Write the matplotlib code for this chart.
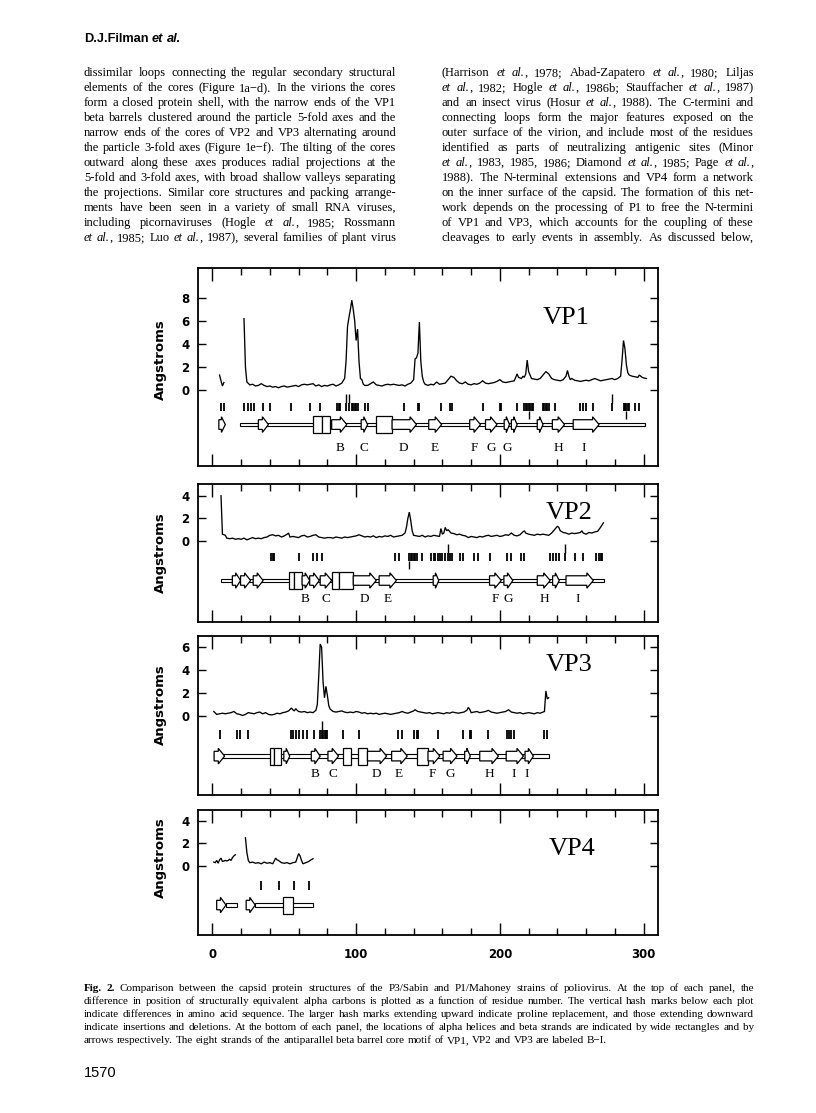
import numpy as np
import matplotlib
matplotlib.use('Agg')
import matplotlib.pyplot as plt
from matplotlib.patches import Polygon, Rectangle

# ------------------------------------------------------------------ data
# difference in C-alpha position (residue, Angstroms), one list per chain segment
VP1_SEGMENTS = [
    [(5, 1.3), (6, 0.8), (7, 0.35), (8, 0.65)],
    [(22, 6.2), (23, 2.0), (24, 0.7), (26, 0.45), (28, 0.5), (30, 0.35), (32, 0.4), (34, 0.55),
     (36, 0.4), (38, 0.3), (40, 0.35), (42, 0.25), (44, 0.3), (46, 0.2), (48, 0.3), (50, 0.35),
     (52, 0.25), (54, 0.3), (56, 0.35), (58, 0.4), (60, 0.3), (62, 0.45), (64, 0.5), (66, 0.45),
     (68, 0.5), (70, 0.55), (72, 0.35), (74, 0.45), (76, 0.3), (78, 0.4), (80, 0.35), (82, 0.45),
     (84, 0.5), (86, 0.35), (88, 0.45), (90, 0.6), (92, 1.0), (93, 2.5), (94, 5.5), (95, 6.3),
     (96, 7.0), (97, 7.8), (98, 7.0), (99, 6.0), (100, 4.3), (101, 5.3), (102, 2.5), (103, 1.0),
     (104, 0.9), (105, 0.5), (106, 0.4), (108, 0.4), (110, 0.55), (112, 0.7), (114, 0.45),
     (116, 0.4), (118, 0.35), (120, 0.45), (122, 0.5), (124, 0.45), (126, 0.5), (128, 0.45),
     (130, 0.4), (132, 0.45), (134, 0.35), (136, 0.5), (138, 0.6), (140, 0.9), (141, 2.7),
     (142, 2.8), (143, 3.2), (144, 5.9), (145, 2.5), (146, 1.2), (147, 0.7), (148, 0.5),
     (150, 0.4), (152, 0.5), (154, 0.45), (156, 0.7), (158, 0.5), (160, 0.55), (162, 0.6),
     (164, 0.9), (166, 1.2), (168, 1.1), (170, 0.8), (172, 0.6), (174, 0.55), (176, 0.7),
     (178, 0.5), (180, 0.45), (182, 0.55), (184, 0.5), (186, 0.6), (188, 0.8), (190, 0.6),
     (192, 0.55), (194, 0.6), (196, 0.65), (198, 0.75), (200, 0.9), (202, 0.7), (204, 0.65),
     (206, 0.7), (208, 0.75), (210, 0.8), (212, 1.4), (213, 1.1), (215, 1.0), (216, 1.2),
     (217, 1.1), (218, 1.4), (219, 2.6), (220, 1.6), (221, 1.3), (222, 1.0), (224, 0.95),
     (226, 0.9), (228, 1.0), (230, 1.3), (232, 1.6), (234, 1.4), (236, 1.0), (238, 0.9),
     (240, 0.85), (242, 0.8), (244, 0.9), (246, 1.2), (247, 1.7), (248, 1.2), (249, 0.9),
     (250, 1.0), (252, 0.85), (254, 0.8), (256, 0.75), (258, 0.8), (260, 0.85), (262, 0.8),
     (264, 0.9), (266, 1.0), (268, 0.9), (270, 0.8), (272, 0.85), (274, 0.9), (276, 0.95),
     (278, 1.0), (280, 0.9), (282, 1.0), (284, 1.2), (285, 2.6), (286, 4.3), (287, 3.6),
     (288, 2.2), (289, 1.5), (290, 1.3), (292, 1.2), (294, 1.15), (296, 1.1), (297, 1.3),
     (299, 1.1), (300, 1.05), (302, 1.0)],
]
VP2_SEGMENTS = [
    [(6, 4.0), (7, 0.6), (9, 0.5), (10, 0.25), (12, 0.2), (14, 0.25), (16, 0.15), (18, 0.2),
     (20, 0.15), (22, 0.25), (24, 0.1), (26, 0.2), (28, 0.3), (30, 0.2), (32, 0.25), (34, 0.2),
     (36, 0.3), (38, 0.35), (40, 0.5), (42, 0.55), (44, 0.45), (46, 0.5), (48, 0.35), (50, 0.45),
     (52, 0.6), (53, 0.7), (54, 0.35), (56, 0.4), (58, 0.35), (60, 0.3), (62, 0.45), (64, 0.5),
     (66, 0.35), (68, 0.4), (70, 0.5), (72, 0.55), (74, 0.35), (76, 0.3), (78, 0.25), (80, 0.3),
     (82, 0.3), (84, 0.25), (86, 0.35), (88, 0.3), (90, 0.25), (92, 0.35), (94, 0.3), (96, 0.35),
     (98, 0.4), (100, 0.45), (102, 0.55), (104, 0.45), (106, 0.35), (108, 0.4), (110, 0.35),
     (112, 0.45), (114, 0.3), (116, 0.4), (118, 0.35), (120, 0.45), (122, 0.4), (124, 0.5),
     (126, 0.35), (128, 0.4), (130, 0.45), (132, 0.5), (134, 0.7), (135, 1.2), (136, 2.0),
     (137, 2.55), (138, 1.8), (139, 0.9), (140, 0.5), (142, 0.45), (144, 0.4), (146, 0.5),
     (148, 0.35), (150, 0.45), (152, 0.4), (154, 0.5), (156, 0.45), (158, 0.4), (159, 1.1),
     (160, 0.6), (161, 0.7), (162, 1.2), (163, 0.9), (164, 1.0), (166, 0.7), (168, 0.65),
     (170, 0.55), (172, 0.6), (174, 0.5), (176, 0.45), (178, 0.3), (180, 0.4), (182, 0.35),
     (184, 0.3), (186, 0.4), (188, 0.35), (190, 0.45), (192, 0.5), (194, 0.4), (196, 0.45),
     (198, 0.5), (200, 0.4), (202, 0.45), (204, 0.55), (206, 0.5), (208, 0.7), (210, 0.5),
     (212, 0.45), (214, 0.55), (216, 0.8), (217, 0.9), (218, 0.7), (220, 0.6), (222, 0.55),
     (224, 0.5), (226, 0.6), (228, 0.55), (230, 0.6), (232, 0.55), (234, 0.5), (236, 0.7),
     (238, 1.0), (240, 1.3), (241, 1.2), (242, 0.9), (244, 0.75), (246, 0.7), (248, 0.6),
     (250, 0.7), (252, 0.65), (254, 0.7), (256, 0.75), (257, 0.9), (258, 0.7), (260, 0.6),
     (262, 0.75), (264, 0.7), (266, 0.8), (268, 0.85), (270, 1.2), (272, 1.6)],
]
VP3_SEGMENTS = [
    [(1, 0.4), (3, 0.15), (5, 0.2), (7, 0.25), (9, 0.2), (11, 0.25), (13, 0.3), (15, 0.4),
     (17, 0.2), (19, 0.15), (21, 0.05), (23, 0.15), (25, 0.3), (27, 0.25), (29, 0.2), (31, 0.3),
     (33, 0.35), (35, 0.2), (37, 0.3), (39, 0.15), (41, 0.1), (43, 0.15), (45, 0.25), (47, 0.2),
     (49, 0.3), (51, 0.35), (53, 0.45), (55, 0.7), (56, 0.55), (57, 0.45), (58, 0.65), (59, 0.5),
     (60, 0.4), (62, 0.35), (64, 0.4), (66, 0.3), (68, 0.35), (70, 0.3), (72, 0.5), (73, 1.0),
     (74, 3.5), (75, 6.3), (76, 6.0), (77, 3.0), (78, 1.6), (79, 2.6), (80, 1.8), (81, 0.9),
     (82, 0.6), (84, 0.4), (86, 0.35), (88, 0.4), (90, 0.45), (92, 0.35), (94, 0.3), (96, 0.35),
     (98, 0.3), (100, 0.4), (102, 0.35), (104, 0.25), (106, 0.3), (108, 0.2), (110, 0.25),
     (112, 0.2), (114, 0.25), (116, 0.15), (118, 0.2), (120, 0.25), (122, 0.2), (124, 0.15),
     (126, 0.2), (128, 0.25), (130, 0.3), (132, 0.4), (134, 0.3), (136, 0.25), (138, 0.35),
     (140, 0.45), (141, 0.55), (143, 0.4), (145, 0.35), (147, 0.3), (149, 0.25), (151, 0.3),
     (153, 0.2), (155, 0.25), (157, 0.3), (159, 0.25), (161, 0.2), (163, 0.3), (165, 0.25),
     (167, 0.35), (169, 0.3), (171, 0.25), (173, 0.3), (175, 0.35), (177, 0.5), (178, 0.75),
     (179, 0.6), (180, 0.3), (182, 0.35), (184, 0.4), (186, 0.3), (188, 0.35), (190, 0.4),
     (192, 0.5), (194, 0.35), (196, 0.3), (198, 0.25), (200, 0.3), (202, 0.35), (204, 0.4),
     (206, 0.55), (208, 0.35), (210, 0.3), (212, 0.25), (214, 0.3), (216, 0.2), (218, 0.25),
     (220, 0.3), (222, 0.25), (224, 0.2), (226, 0.3), (228, 0.25), (230, 0.35), (231, 0.4),
     (232, 2.2), (233, 1.5), (234, 1.6)],
]
VP4_SEGMENTS = [
    [(1, 0.35), (2, 0.3), (3, 0.5), (4, 0.25), (5, 0.55), (6, 0.7), (7, 0.4), (8, 0.45),
     (9, 0.5), (10, 0.45), (11, 0.5), (12, 0.6), (13, 0.5), (14, 0.75), (15, 0.9), (16, 1.0)],
    [(23, 2.5), (24, 1.2), (25, 0.5), (26, 0.3), (28, 0.35), (30, 0.25), (32, 0.3), (34, 0.2),
     (36, 0.35), (38, 0.25), (40, 0.3), (42, 0.2), (44, 0.7), (45, 0.55), (46, 0.5), (48, 0.3),
     (50, 0.25), (52, 0.3), (54, 0.2), (56, 0.3), (58, 0.35), (60, 1.1), (61, 0.9), (62, 0.5),
     (63, 0.2), (65, 0.3), (67, 0.4), (68, 0.5), (70, 0.65)],
]

# sequence differences (residue numbers), proline replacements, insertions/deletions
VP1_DIFF = [6, 8, 22, 25, 27, 29, 35, 40, 55, 68, 75, 87, 88, 89, 93, 95, 97, 98, 99, 100, 101,
            106, 108, 133, 143, 144, 159, 165, 167, 188, 200, 201, 212, 217, 218, 219, 220, 221,
            222, 223, 230, 231, 232, 233, 234, 238, 256, 258, 260, 265, 278, 286, 287, 288, 289,
            290, 294, 297]
VP1_PRO = [93, 95, 278]
VP1_INDEL = [220, 288]
VP2_DIFF = [41, 42, 43, 60, 70, 73, 76, 127, 130, 137, 138, 139, 140, 141, 142, 146, 152, 154,
            155, 157, 158, 160, 162, 164, 165, 167, 172, 174, 182, 185, 193, 205, 208, 215, 217,
            235, 237, 239, 241, 245, 252, 258, 267, 269, 270, 271]
VP2_PRO = [164, 245]
VP2_INDEL = [137]
VP3_DIFF = [5, 17, 19, 25, 55, 56, 58, 60, 63, 66, 71, 75, 76, 77, 78, 79, 80, 91, 102, 129, 132,
            140, 142, 143, 157, 174, 179, 180, 192, 205, 206, 208, 210, 231, 233]
VP3_PRO = [76]
VP3_INDEL = []
VP4_DIFF = [34, 46, 57, 67]
VP4_PRO = []
VP4_INDEL = []

# secondary structure: coil extents, helices (rectangles), strands (arrows)
VP1_COIL = [(19, 301)]
VP1_HELIX = [(70, 76), (76, 82), (114, 125)]
VP1_STRAND = [(4.5, 9), (32, 39), (83, 93.5), (103.5, 108), (125, 142), (150.5, 159.5),
              (179, 186.5), (190, 198), (203, 206.7), (208, 212), (226, 230), (236.5, 245),
              (251, 269)]
VP2_COIL = [(5.8, 272.5)]
VP2_HELIX = [(53.6, 57), (57, 62.4), (83, 88.4), (88.4, 98)]
VP2_STRAND = [(13.9, 19.6), (19.6, 26.6), (28.4, 35.3), (62.4, 67.7), (67.7, 74.4), (75, 83),
              (98, 114), (116, 128), (153.6, 157.5), (192.8, 201), (202.8, 209), (226, 235),
              (236.7, 241.3), (246, 265)]
VP3_COIL = [(1.2, 234.4)]
VP3_HELIX = [(40.4, 43.2), (43.2, 48), (90.8, 96.5), (101.6, 107.9), (142.5, 150)]
VP3_STRAND = [(1.2, 8.5), (49.7, 53.8), (68.8, 75), (80.4, 87.8), (107.9, 121.2), (124.7, 135.6),
              (150, 158.2), (160.5, 170.2), (175.5, 179.4), (186, 199), (204.4, 216.4),
              (217.5, 223.3)]
VP4_COIL = [(9.5, 17.4), (29.8, 69.8)]
VP4_HELIX = [(48.8, 56)]
VP4_STRAND = [(3, 9.5), (23.5, 29.8)]

# beta-barrel strand labels
VP1_LABELS = ['B', 'C', 'D', 'E', 'F', 'G', 'G', 'H', 'I']
VP1_LABEL_X = [88.5, 105.5, 133, 154.7, 182, 194, 205, 241, 258]
VP2_LABELS = ['B', 'C', 'D', 'E', 'F', 'G', 'H', 'I']
VP2_LABEL_X = [64.7, 79, 105.8, 121.7, 196.8, 206, 231, 254]
VP3_LABELS = ['B', 'C', 'D', 'E', 'F', 'G', 'H', 'I', 'I']
VP3_LABEL_X = [71.6, 83.8, 114.3, 129.3, 153, 165.6, 192.8, 209.5, 218.9]
VP4_LABELS = []
VP4_LABEL_X = []

PANEL_NAMES = ['VP1', 'VP2', 'VP3', 'VP4']
X_TICKS = [0, 100, 200, 300]

# page text
HEADER = '*D.J.Filman* *_et al._*'
LEFT_COLUMN = [
    'dissimilar loops connecting the regular secondary structural',
    'elements of the cores (Figure 1a\u2212d). In the virions the cores',
    'form a closed protein shell, with the narrow ends of the VP1',
    'beta barrels clustered around the particle 5-fold axes and the',
    'narrow ends of the cores of VP2 and VP3 alternating around',
    'the particle 3-fold axes (Figure 1e\u2212f). The tilting of the cores',
    'outward along these axes produces radial projections at the',
    '5-fold and 3-fold axes, with broad shallow valleys separating',
    'the projections. Similar core structures and packing arrange-',
    'ments have been seen in a variety of small RNA viruses,',
    'including picornaviruses (Hogle _et al._, 1985; Rossmann',
    '_et al._, 1985; Luo _et al._, 1987), several families of plant virus',
]
RIGHT_COLUMN = [
    '(Harrison _et al._, 1978; Abad-Zapatero _et al._, 1980; Liljas',
    '_et al._, 1982; Hogle _et al._, 1986b; Stauffacher _et al._, 1987)',
    'and an insect virus (Hosur _et al._, 1988). The C-termini and',
    'connecting loops form the major features exposed on the',
    'outer surface of the virion, and include most of the residues',
    'identified as parts of neutralizing antigenic sites (Minor',
    '_et al._, 1983, 1985, 1986; Diamond _et al._, 1985; Page _et al._,',
    '1988). The N-terminal extensions and VP4 form a network',
    'on the inner surface of the capsid. The formation of this net-',
    'work depends on the processing of P1 to free the N-termini',
    'of VP1 and VP3, which accounts for the coupling of these',
    'cleavages to early events in assembly. As discussed below,',
]
CAPTION = [
    '*Fig. 2.* Comparison between the capsid protein structures of the P3/Sabin and P1/Mahoney strains of poliovirus. At the top of each panel, the',
    'difference in position of structurally equivalent alpha carbons is plotted as a function of residue number. The vertical hash marks below each plot',
    'indicate differences in amino acid sequence. The larger hash marks extending upward indicate proline replacement, and those extending downward',
    'indicate insertions and deletions. At the bottom of each panel, the locations of alpha helices and beta strands are indicated by wide rectangles and by',
    'arrows respectively. The eight strands of the antiparallel beta barrel core motif of VP1, VP2 and VP3 are labeled B\u2212I.',
]
PAGE_NUMBER = '1570'

# ------------------------------------------------------------------ layout / style
W, H = 816, 1113
DPI = 100
SERIF = 'Liberation Serif'
SANS = 'Liberation Sans'

fig = plt.figure(figsize=(W / DPI, H / DPI), dpi=DPI)
fig.patch.set_facecolor('white')
renderer = fig.canvas.get_renderer()


def fx(x):
    return x / W


def fy(y):
    return 1 - y / H


def parse(line):
    words, ital, bold = [], False, False
    for raw in line.split(' '):
        segs, buf = [], ''
        for ch in raw:
            if ch in '_*':
                if buf:
                    segs.append((buf, ital, bold))
                    buf = ''
                if ch == '_':
                    ital = not ital
                else:
                    bold = not bold
            else:
                buf += ch
        if buf:
            segs.append((buf, ital, bold))
        words.append(segs)
    return words


def measure(s, size, ital, bold, family):
    t = fig.text(0, 0, s, fontsize=size, style='italic' if ital else 'normal',
                 weight='bold' if bold else 'normal', family=family)
    w = t.get_window_extent(renderer).width
    t.remove()
    return w


def text_block(lines, x0, x1, y0, dy, family, justify_last=True, size=None, fill=0.985):
    parsed = [parse(l) for l in lines]
    if size is None:
        ref = 10.0
        sp = measure('x x', ref, False, False, family) - measure('xx', ref, False, False, family)
        nat = []
        for words in parsed:
            tot = sum(measure(s, ref, it, bd, family) for w in words for (s, it, bd) in w)
            nat.append(tot + sp * (len(words) - 1))
        size = ref * (x1 - x0) * fill / max(nat)
    sp = measure('x x', size, False, False, family) - measure('xx', size, False, False, family)
    for i, words in enumerate(parsed):
        widths = [[measure(s, size, it, bd, family) for (s, it, bd) in w] for w in words]
        tot = sum(sum(ws) for ws in widths)
        last = (i == len(parsed) - 1)
        if len(words) > 1 and (justify_last or not last):
            gap = (x1 - x0 - tot) / (len(words) - 1)
        else:
            gap = sp
        x = x0
        y = y0 + i * dy
        for w, ws in zip(words, widths):
            for (s, it, bd), ww in zip(w, ws):
                fig.text(fx(x), fy(y), s, fontsize=size, family=family,
                         style='italic' if it else 'normal', weight='bold' if bd else 'normal',
                         ha='left', va='baseline')
                x += ww
            x += gap
    return size


# header and columns
text_block([HEADER], 84, 300, 42, 0, SANS, justify_last=False, size=9.2)
body_size = text_block(LEFT_COLUMN, 84, 396, 76, 15.0, SERIF)
text_block(RIGHT_COLUMN, 442, 754, 76, 15.0, SERIF, size=body_size)
text_block(CAPTION, 84, 754, 991, 13.0, SERIF, justify_last=False)
fig.text(fx(84), fy(1077), PAGE_NUMBER, fontsize=10.5, family=SANS, ha='left', va='baseline')

# ------------------------------------------------------------------ panels
panel_data = {
    'VP1': (VP1_SEGMENTS, VP1_DIFF, VP1_PRO, VP1_INDEL, VP1_COIL, VP1_HELIX, VP1_STRAND, VP1_LABELS, VP1_LABEL_X),
    'VP2': (VP2_SEGMENTS, VP2_DIFF, VP2_PRO, VP2_INDEL, VP2_COIL, VP2_HELIX, VP2_STRAND, VP2_LABELS, VP2_LABEL_X),
    'VP3': (VP3_SEGMENTS, VP3_DIFF, VP3_PRO, VP3_INDEL, VP3_COIL, VP3_HELIX, VP3_STRAND, VP3_LABELS, VP3_LABEL_X),
    'VP4': (VP4_SEGMENTS, VP4_DIFF, VP4_PRO, VP4_INDEL, VP4_COIL, VP4_HELIX, VP4_STRAND, VP4_LABELS, VP4_LABEL_X),
}
panel_style = {  # box top/bottom px, ylim, yticks, hash rows, structure row, label row, name pos, ylabel pos
    'VP1': dict(box=(268, 466), ylim=(-6.6, 10.6), yticks=[0, 2, 4, 6, 8], hash=(-1.8, -1.15),
                ss=-3.0, lab=-5.0, name=(246, 6.3), ylab=0.535),
    'VP2': dict(box=(484, 622), ylim=(-7.17, 5.04), yticks=[0, 2, 4], hash=(-1.8, -1.1),
                ss=-3.5, lab=-5.1, name=(248, 2.5), ylab=0.5),
    'VP3': dict(box=(636, 795), ylim=(-6.9, 7.0), yticks=[0, 2, 4, 6], hash=(-2.0, -1.25),
                ss=-3.5, lab=-5.1, name=(248, 4.5), ylab=0.57),
    'VP4': dict(box=(810, 935), ylim=(-6.1, 4.96), yticks=[0, 2, 4], hash=(-2.1, -1.3),
                ss=-3.45, lab=-5.1, name=(250, 1.5), ylab=0.62),
}
AX_L, AX_R = 198, 658
BOX_H, BODY_H, HEAD_H, COIL_H, HEAD_L = 0.75, 0.42, 0.68, 0.16, 4.5

for name in PANEL_NAMES:
    segs, diff, pro, indel, coil, helix, strand, labs, lab_x = panel_data[name]
    st = panel_style[name]
    top, bot = st['box']
    ax = fig.add_axes([fx(AX_L), fy(bot), (AX_R - AX_L) / W, (bot - top) / H])
    ax.set_xlim(-10, 310)
    ax.set_ylim(*st['ylim'])
    ax.set_xticks(X_TICKS)
    ax.set_xticks(np.arange(0, 301, 20), minor=True)
    ax.set_yticks(st['yticks'])
    last = (name == 'VP4')
    ax.tick_params(axis='x', which='major', direction='in', length=9, width=1.0,
                   top=True, bottom=True, labelbottom=last, pad=9)
    ax.tick_params(axis='x', which='minor', direction='in', length=5, width=1.0,
                   top=True, bottom=True)
    ax.tick_params(axis='y', which='major', direction='in', length=6, width=1.0,
                   left=True, right=True, pad=6)
    for lbl in ax.get_xticklabels() + ax.get_yticklabels():
        lbl.set_family('DejaVu Sans')
        lbl.set_fontweight('bold')
        lbl.set_fontsize(8.5)
    for sp in ax.spines.values():
        sp.set_linewidth(1.3)
    ax.set_ylabel('Angstroms', family='DejaVu Sans', fontweight='bold', fontsize=9.5)
    ax.yaxis.set_label_coords(-0.068, st['ylab'])

    # distance curve
    for seg in segs:
        xs = [p[0] for p in seg]
        ys = [p[1] for p in seg]
        ax.plot(xs, ys, color='black', lw=0.95, solid_joinstyle='miter')

    # hash marks
    lo, hi = st['hash']
    ax.vlines(diff, lo, hi, color='black', lw=1.3)
    if pro:
        ax.vlines(pro, hi, hi + 0.8, color='black', lw=1.0)
    if indel:
        ax.vlines(indel, lo - 0.7, lo, color='black', lw=1.0)

    # secondary structure
    yc = st['ss']
    for a, b in coil:
        ax.add_patch(Rectangle((a, yc - COIL_H), b - a, 2 * COIL_H, fc='white', ec='black',
                               lw=0.8, zorder=2))
    for a, b in helix:
        ax.add_patch(Rectangle((a, yc - BOX_H), b - a, 2 * BOX_H, fc='white', ec='black',
                               lw=0.9, zorder=3))
    for a, b in strand:
        hl = min(HEAD_L, 0.6 * (b - a))
        pts = [(a, yc - BODY_H), (b - hl, yc - BODY_H), (b - hl, yc - HEAD_H), (b, yc),
               (b - hl, yc + HEAD_H), (b - hl, yc + BODY_H), (a, yc + BODY_H)]
        ax.add_patch(Polygon(pts, closed=True, fc='white', ec='black', lw=0.9, zorder=3))
    for s, x in zip(labs, lab_x):
        ax.text(x, st['lab'], s, family=SERIF, fontsize=9.5, ha='center', va='center')

    ax.text(st['name'][0], st['name'][1], name, family=SERIF, fontsize=19,
            ha='center', va='center')

fig.savefig('out.png', dpi=DPI, facecolor='white')
